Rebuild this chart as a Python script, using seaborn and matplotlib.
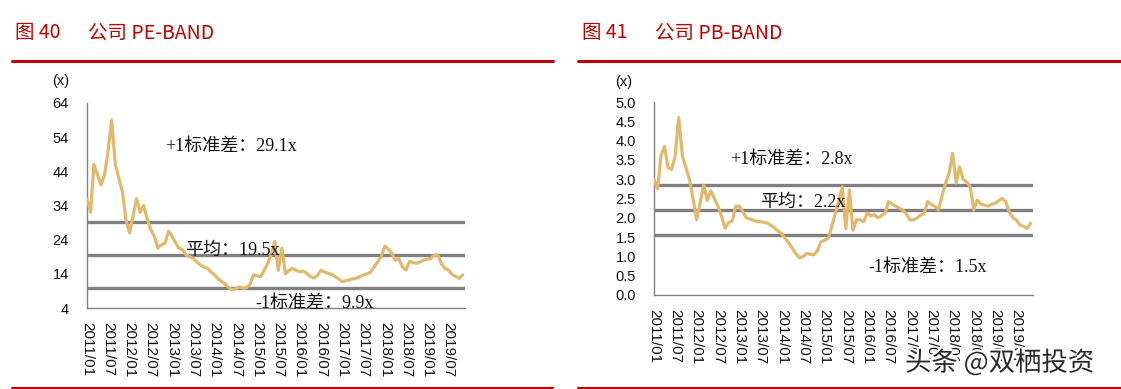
import numpy as np
import pandas as pd
import matplotlib
matplotlib.use("Agg")
import matplotlib.pyplot as plt
import matplotlib.patheffects as pe_fx
import seaborn as sns
from matplotlib.lines import Line2D

# ---------------- data ----------------
start_month = "2011-01-01"
pe_values = [36, 32, 46, 43, 40, 43, 50, 59, 46, 42,
             38, 30, 26, 31, 36, 32, 34, 30, 27, 25,
             21.5, 22.5, 23, 26.5, 25, 23, 21.5, 21, 19.5, 19,
             18.5, 17.5, 16.6, 16, 15.6, 14.5, 13.7, 12.5, 11.8, 11,
             10, 9.3, 9.6, 10.2, 9.8, 9.9, 11, 13.7, 13.4, 13.2,
             15, 17, 19.5, 23.5, 15, 21.5, 14, 15, 15.6, 15,
             14.6, 14.8, 14.2, 13.2, 12.8, 13.5, 15.1, 14.5, 14.2, 13.8,
             13.2, 12.5, 11.7, 12, 12.2, 12.5, 12.7, 13.2, 13.7, 14,
             14.5, 16, 17.5, 19, 22.1, 21.2, 20, 18, 18.5, 16,
             15.1, 17.6, 17.3, 17.1, 17.5, 18, 18.3, 18.5, 19.5, 19.5,
             17, 15.6, 15.1, 13.8, 13.2, 12.7, 13.7]
pb_values = [3.0, 2.75, 3.6, 3.85, 3.3, 3.25, 3.6, 4.6, 3.6, 3.3,
             3.0, 2.5, 1.95, 2.4, 2.85, 2.45, 2.7, 2.5, 2.3, 2.05,
             1.73, 1.88, 1.92, 2.3, 2.3, 2.15, 2.0, 1.97, 1.94, 1.9,
             1.9, 1.88, 1.86, 1.8, 1.73, 1.65, 1.58, 1.45, 1.35, 1.2,
             1.07, 0.96, 1.0, 1.08, 1.05, 1.04, 1.15, 1.38, 1.42, 1.47,
             1.75, 2.1, 2.42, 2.8, 1.72, 2.72, 1.68, 1.95, 1.95, 1.9,
             2.12, 2.05, 2.08, 2.0, 2.05, 2.12, 2.42, 2.35, 2.3, 2.25,
             2.2, 2.1, 1.94, 1.95, 1.99, 2.07, 2.1, 2.42, 2.35, 2.3,
             2.2, 2.55, 2.89, 3.15, 3.67, 2.9, 3.32, 3.0, 2.93, 2.8,
             2.2, 2.46, 2.35, 2.33, 2.3, 2.35, 2.38, 2.45, 2.5, 2.42,
             2.15, 2.0, 1.94, 1.81, 1.78, 1.73, 1.86]

pe_bands = [29.1, 19.5, 9.9]          # +1 std, mean, -1 std
pb_bands = [2.84, 2.19, 1.55]
pe_band_labels = ["+1标准差：29.1x", "平均：19.5x", "-1标准差：9.9x"]
pb_band_labels = ["+1标准差：2.8x", "平均：2.2x", "-1标准差：1.5x"]
pe_yticks = [4, 14, 24, 34, 44, 54, 64]
pb_yticks = [0.0, 0.5, 1.0, 1.5, 2.0, 2.5, 3.0, 3.5, 4.0, 4.5, 5.0]
tick_dates = pd.date_range("2011-01-01", "2019-07-01", freq="6MS")
tick_labels = [d.strftime("%Y/%m") for d in tick_dates]
titles = [("图 40", "公司 PE-BAND"), ("图 41", "公司 PB-BAND")]

dates = pd.date_range(start_month, periods=len(pe_values), freq="MS")
df = pd.DataFrame({"date": dates, "pe": pe_values, "pb": pb_values})

# ---------------- style ----------------
sns.set_style("white")
plt.rcParams["font.family"] = ["Liberation Sans", "Noto Sans CJK SC"]
LINE = "#E2B96C"
BAND = "#808080"
RED = "#C00000"
SERIF = ["Liberation Serif", "Noto Sans CJK SC"]

W, H = 1121, 389
fig = plt.figure(figsize=(W / 100, H / 100), dpi=100)

def fx(px):
    return px / W

def fy(py):
    return 1 - py / H

axL = fig.add_axes([fx(87), fy(308), fx(465 - 87), (308 - 103) / H])
axR = fig.add_axes([fx(654), fy(295), fx(1033 - 654), (295 - 102) / H])

xmin = pd.Timestamp("2011-01-01")
xmax = pd.Timestamp("2019-11-20")

def style_axes(ax, yticks, ylim, fmt):
    ax.set_xlim(xmin, xmax)
    ax.set_ylim(*ylim)
    ax.set_yticks(yticks)
    ax.set_yticklabels([fmt(v) for v in yticks])
    ax.set_xticks(tick_dates)
    ax.set_xticklabels(tick_labels, rotation=270, va="top", ha="center")
    for s in ["top", "right"]:
        ax.spines[s].set_visible(False)
    for s in ["left", "bottom"]:
        ax.spines[s].set_color("#808080")
        ax.spines[s].set_linewidth(1.0)
    ax.tick_params(axis="both", direction="out", length=4, width=1,
                   color="#808080", labelcolor="#111111")
    ax.tick_params(axis="y", pad=9, labelsize=10.5)
    ax.tick_params(axis="x", pad=6, labelsize=11)
    ax.set_xlabel("")
    ax.set_ylabel("")
    ax.patch.set_alpha(0)

# left: PE band
for b in pe_bands:
    axL.axhline(b, color=BAND, lw=2.4, zorder=1)
sns.lineplot(data=df, x="date", y="pe", ax=axL, color=LINE, lw=2.3, zorder=3)
style_axes(axL, pe_yticks, (4, 64), lambda v: f"{v:d}")

# right: PB band
for b in pb_bands:
    axR.axhline(b, color=BAND, lw=2.4, zorder=1)
sns.lineplot(data=df, x="date", y="pb", ax=axR, color=LINE, lw=2.3, zorder=3)
style_axes(axR, pb_yticks, (0, 5.0), lambda v: f"{v:.1f}")

# band annotations (axes fraction)
pe_text_pos = [(0.207, 0.79), (0.26, 0.283), (0.445, 0.024)]
pb_text_pos = [(0.20, 0.70), (0.28, 0.482), (0.565, 0.145)]
for (x, y), t in zip(pe_text_pos, pe_band_labels):
    axL.text(x, y, t, transform=axL.transAxes, family=SERIF, fontsize=13,
             color="#111111", va="center", ha="left", zorder=4)
for (x, y), t in zip(pb_text_pos, pb_band_labels):
    axR.text(x, y, t, transform=axR.transAxes, family=SERIF, fontsize=13,
             color="#111111", va="center", ha="left", zorder=4)

# "(x)" unit labels
fig.text(fx(52), fy(81), "(x)", fontsize=10.5, va="center", ha="left", color="#111111")
fig.text(fx(615), fy(82), "(x)", fontsize=10.5, va="center", ha="left", color="#111111")

# titles
for (num, name), x0 in zip(titles, [15, 582]):
    fig.text(fx(x0), fy(33), num, fontsize=14, color=RED, va="center", ha="left",
             family=["Noto Sans CJK SC"])
    fig.text(fx(x0 + 73), fy(33), name, fontsize=14, color=RED, va="center", ha="left",
             family=["Noto Sans CJK SC"])

# red rules
for (x0, x1) in [(12, 553), (578, 1121)]:
    fig.add_artist(Line2D([fx(x0), fx(x1)], [fy(61), fy(61)], color=RED, lw=2.2,
                          transform=fig.transFigure))
    fig.add_artist(Line2D([fx(x0), fx(x1)], [fy(387.5), fy(387.5)], color=RED, lw=1.5,
                          transform=fig.transFigure))

# watermark
fig.text(fx(905), fy(363), "头条 @双栖投资", fontsize=19, color="#2a2a2a",
         va="center", ha="left", family=["Noto Sans CJK SC"], zorder=10,
         path_effects=[pe_fx.withStroke(linewidth=3, foreground="white")])

fig.savefig("out.png", dpi=100)
